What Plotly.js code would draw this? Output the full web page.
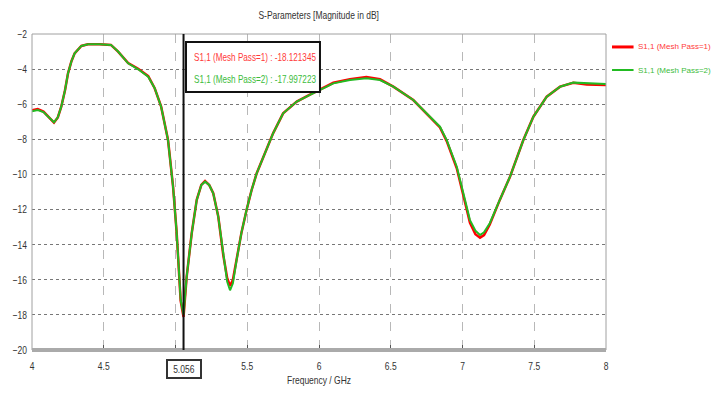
<!DOCTYPE html>
<html><head><meta charset="utf-8">
<script src="https://cdn.plot.ly/plotly-3.0.1.min.js"></script>
<style>html,body{margin:0;padding:0;background:#fff}#c{width:713px;height:396px}</style>
</head><body><div id="c"></div>
<script>
const freqGHz = [4.0,4.04,4.08,4.12,4.153,4.18,4.204,4.23,4.251,4.275,4.297,4.344,4.39,4.47,4.55,4.60,4.67,4.74,4.81,4.855,4.90,4.948,4.983,5.008,5.036,5.056,5.078,5.113,5.148,5.18,5.206,5.235,5.263,5.298,5.333,5.36,5.38,5.40,5.426,5.46,5.496,5.53,5.566,5.635,5.68,5.75,5.845,5.93,6.007,6.10,6.216,6.33,6.425,6.518,6.657,6.75,6.797,6.843,6.89,6.96,7.006,7.052,7.09,7.122,7.15,7.19,7.26,7.331,7.424,7.494,7.587,7.68,7.772,7.866,8.0];
const s11Pass1 = [-6.35,-6.28,-6.42,-6.75,-7.05,-6.75,-6.14,-5.2,-4.24,-3.55,-3.10,-2.68,-2.59,-2.58,-2.62,-3.0,-3.65,-3.98,-4.40,-5.09,-6.14,-8.04,-10.7,-13.3,-17.2,-18.12,-15.82,-13.35,-11.45,-10.6,-10.38,-10.6,-11.07,-12.4,-14.6,-15.9,-16.35,-16.0,-14.8,-13.3,-12.0,-10.9,-9.93,-8.6,-7.66,-6.52,-5.85,-5.48,-5.17,-4.78,-4.57,-4.45,-4.58,-5.0,-5.76,-6.52,-6.92,-7.32,-8.1,-9.65,-11.2,-12.75,-13.4,-13.6,-13.45,-12.85,-11.45,-10.13,-8.04,-6.71,-5.57,-5.0,-4.78,-4.87,-4.9];
const s11Pass2 = [-6.40,-6.33,-6.45,-6.75,-7.03,-6.75,-6.14,-5.2,-4.24,-3.55,-3.10,-2.68,-2.59,-2.58,-2.62,-3.0,-3.67,-4.01,-4.43,-5.09,-6.14,-8.04,-10.7,-13.3,-17.15,-18.0,-15.82,-13.35,-11.45,-10.6,-10.41,-10.6,-11.07,-12.4,-14.68,-16.1,-16.6,-16.2,-14.87,-13.3,-12.0,-10.9,-9.93,-8.6,-7.66,-6.52,-5.85,-5.5,-5.19,-4.81,-4.62,-4.52,-4.62,-5.0,-5.76,-6.52,-6.9,-7.28,-8.04,-9.56,-11.07,-12.6,-13.2,-13.45,-13.3,-12.78,-11.45,-10.13,-8.04,-6.71,-5.57,-5.0,-4.77,-4.81,-4.85];
const xTicks = [4,4.5,5,5.5,6,6.5,7,7.5,8];
const xTickText = ["4","4.5","","5.5","6","6.5","7","7.5","8"];
const yTicks = [-2,-4,-6,-8,-10,-12,-14,-16,-18,-20];
const markerFreq = 5.056;
const markerLabel = "5.056";
const seriesNames = ["S1,1 (Mesh Pass=1)","S1,1 (Mesh Pass=2)"];
const markerText = ["S1,1 (Mesh Pass=1) : -18.121345","S1,1 (Mesh Pass=2) : -17.997223"];

const F = "'Liberation Sans',Arial,sans-serif";
const TXT = '#333';
const RED = '#ff0000', GREEN = '#22bb22', RED_T = '#ff3a3a', GREEN_T = '#3cbc3c';
const traces = [
  {x:freqGHz,y:s11Pass1,type:'scatter',mode:'lines',name:seriesNames[0],line:{color:RED,width:2.5}},
  {x:freqGHz,y:s11Pass2,type:'scatter',mode:'lines',name:seriesNames[1],line:{color:GREEN,width:2}}
];
const ann = (x,y,text,color,size) => ({xref:'paper',yref:'paper',x:x,y:y,xanchor:'left',yanchor:'middle',
  align:'left',showarrow:false,text:text,font:{family:F,size:size||11,color:color}});
const layout = {
  width:713,height:396,
  margin:{l:32,r:107,t:34,b:46},
  paper_bgcolor:'#fff',plot_bgcolor:'#fff',
  font:{family:F,size:11,color:TXT},
  showlegend:false,
  title:{text:'S-Parameters [Magnitude in dB]',x:0.447,xanchor:'center',y:0.962,yanchor:'middle',font:{family:F,size:11,color:TXT}},
  xaxis:{range:[4,8],tickvals:xTicks,ticktext:xTickText,showgrid:true,gridcolor:'#b8b8b8',griddash:'dash',gridwidth:1,
    zeroline:false,showline:false,ticks:'inside',ticklen:5,tickcolor:'#555',ticklabelstandoff:8,
    title:{text:'Frequency / GHz',font:{family:F,size:11,color:TXT},standoff:5},tickfont:{family:F,size:11,color:TXT}},
  yaxis:{range:[-20,-2],tickvals:yTicks,showgrid:true,gridcolor:'#777',griddash:'dot',gridwidth:1,zeroline:false,showline:false,
    ticks:'',ticklabelstandoff:4,tickfont:{family:F,size:11,color:TXT}},
  shapes:[
    {type:'rect',xref:'paper',yref:'paper',x0:0,x1:1,y0:0,y1:1,line:{color:'#a0a0a0',width:1}},
    {type:'line',xref:'paper',yref:'paper',x0:0,x1:1,y0:0,y1:0,line:{color:'#aaaaaa',width:4}},
    {type:'line',xref:'x',yref:'paper',x0:markerFreq,x1:markerFreq,y0:0,y1:1,line:{color:'#111',width:2}},
    {type:'rect',xref:'paper',yref:'paper',x0:0.2683,x1:0.5017,y0:0.8165,y1:0.9747,fillcolor:'#fff',line:{color:'#111',width:2},layer:'above'},
    {type:'line',xref:'paper',yref:'paper',x0:1.0105,x1:1.048,y0:0.959,y1:0.959,line:{color:RED,width:3}},
    {type:'line',xref:'paper',yref:'paper',x0:1.0105,x1:1.048,y0:0.886,y1:0.886,line:{color:GREEN,width:2}}
  ],
  annotations:[
    {xref:'x',yref:'paper',x:markerFreq,y:-0.028,yanchor:'top',xanchor:'center',text:markerLabel,showarrow:false,
     bordercolor:'#333',borderwidth:2,borderpad:2,bgcolor:'#fff',font:{family:F,size:11,color:TXT}},
    ann(0.2787,0.9272,markerText[0],RED_T),
    ann(0.2787,0.8576,markerText[1],GREEN_T),
    ann(1.052,0.959,seriesNames[0],RED_T,8),
    ann(1.052,0.886,seriesNames[1],GREEN_T,8)
  ]
};
function condense(el, f){
  const n = el.getComputedTextLength();
  if(n>0){ el.setAttribute('textLength', (n*f).toFixed(2)); el.setAttribute('lengthAdjust','spacingAndGlyphs'); }
}
Plotly.newPlot('c',traces,layout,{displayModeBar:false}).then(()=>{
  document.querySelectorAll('#c svg text').forEach(t=>{
    const s = t.textContent;
    if(seriesNames.indexOf(s) >= 0) return;
    const isMarker = markerText.indexOf(s) >= 0;
    const f = isMarker ? 0.74 : 0.77;
    const b0 = t.getBBox().x;
    const lines = t.querySelectorAll('tspan.line');
    if(lines.length){ lines.forEach(l=>condense(l,f)); } else { condense(t,f); }
    if(isMarker){
      const b1 = t.getBBox().x;
      const x0 = parseFloat(t.getAttribute('x')||'0');
      t.setAttribute('x', (x0 + (b0 - b1)).toFixed(2));
      const nb = t.getBBox();
      const bg = t.parentNode && t.parentNode.querySelector('rect.bg');
      if(bg){ bg.setAttribute('x', (nb.x-1).toFixed(2)); bg.setAttribute('width', (nb.width+2).toFixed(2)); }
    }
  });
});
</script></body></html>
